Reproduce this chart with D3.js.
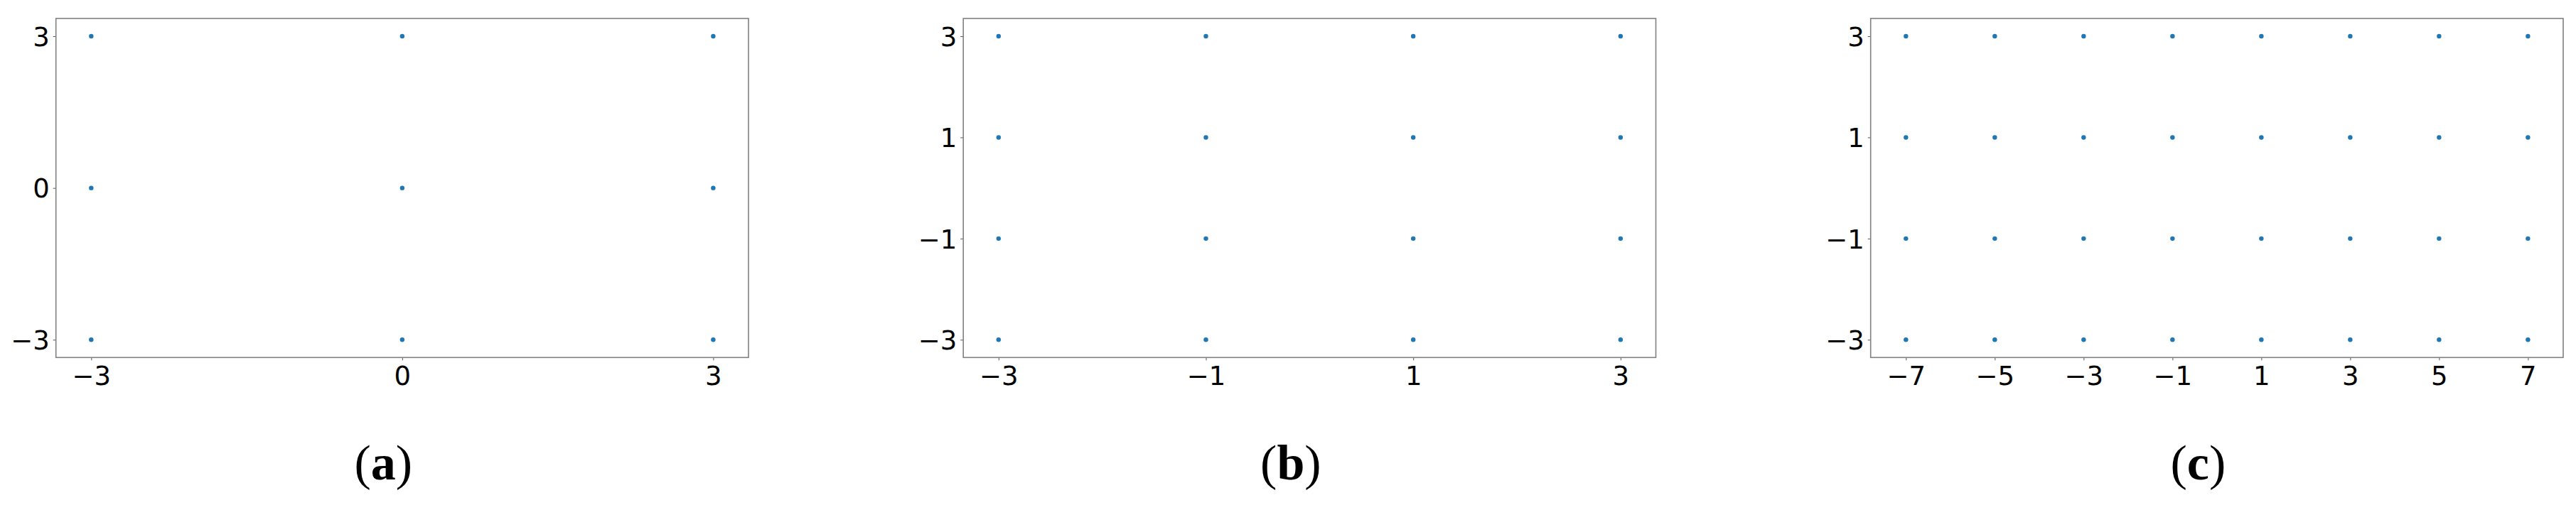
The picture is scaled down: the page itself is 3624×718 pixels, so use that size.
<!DOCTYPE html>
<html>
<head>
<meta charset="utf-8">
<script src="https://cdn.jsdelivr.net/npm/d3@7"></script>
<style>
  html, body { margin: 0; padding: 0; background: #fff; }
  svg { display: block; }
</style>
</head>
<body>
<svg id="chart" width="3624" height="718"></svg>
<script>
// ---- data ----
const panelTitles = ["a", "b", "c"];
const xValuesA = [-3, 0, 3];
const yValuesA = [-3, 0, 3];
const xValuesB = [-3, -1, 1, 3];
const yValuesB = [-3, -1, 1, 3];
const xValuesC = [-7, -5, -3, -1, 1, 3, 5, 7];
const yValuesC = [-3, -1, 1, 3];
const xTicksA = [-3, 0, 3];
const yTicksA = [-3, 0, 3];
const xTicksB = [-3, -1, 1, 3];
const yTicksB = [-3, -1, 1, 3];
const xTicksC = [-7, -5, -3, -1, 1, 3, 5, 7];
const yTicksC = [-3, -1, 1, 3];

const panels = [
  { title: panelTitles[0], xs: xValuesA, ys: yValuesA, xt: xTicksA, yt: yTicksA },
  { title: panelTitles[1], xs: xValuesB, ys: yValuesB, xt: xTicksB, yt: yTicksB },
  { title: panelTitles[2], xs: xValuesC, ys: yValuesC, xt: xTicksC, yt: yTicksC }
];

// ---- layout ----
const svg = d3.select("#chart");
const plotW = 974.3, plotTop = 26, plotBottom = 503.3;
const firstLeft = 78.7, step = 1276.5;
const padX = 0.0567, padY = 0.0585;
const fmt = v => (v < 0 ? "\u2212" + Math.abs(v) : String(v));

panels.forEach((p, i) => {
  const left = firstLeft + i * step;
  const right = left + plotW;
  const [x0, x1] = d3.extent(p.xs);
  const [y0, y1] = d3.extent(p.ys);
  const x = d3.scaleLinear()
    .domain([x0 - (x1 - x0) * padX, x1 + (x1 - x0) * padX])
    .range([left, right]);
  const y = d3.scaleLinear()
    .domain([y0 - (y1 - y0) * padY, y1 + (y1 - y0) * padY])
    .range([plotBottom, plotTop]);

  const g = svg.append("g");

  // points (grid of x by y values)
  const pts = [];
  p.ys.forEach(yy => p.xs.forEach(xx => pts.push([xx, yy])));
  g.selectAll("circle").data(pts).enter().append("circle")
    .attr("cx", d => x(d[0]))
    .attr("cy", d => y(d[1]))
    .attr("r", 3.2)
    .attr("fill", "#1f77b4");

  // axes
  const xAxis = d3.axisBottom(x).tickValues(p.xt).tickFormat(fmt).tickSize(4).tickPadding(8);
  const yAxis = d3.axisLeft(y).tickValues(p.yt).tickFormat(fmt).tickSize(4).tickPadding(5);

  const gx = g.append("g").attr("transform", `translate(0,${plotBottom})`).call(xAxis);
  const gy = g.append("g").attr("transform", `translate(${left},0)`).call(yAxis);
  [gx, gy].forEach(a => {
    a.select(".domain").remove();
    a.selectAll(".tick line").attr("stroke", "#555").attr("stroke-width", 1);
    a.selectAll(".tick text")
      .attr("fill", "#000")
      .style("font-family", "'DejaVu Sans', sans-serif")
      .style("font-size", "37px");
  });
  gy.selectAll(".tick text").attr("dy", "0.36em");
  gx.selectAll(".tick text").attr("dy", "0.71em");

  // frame
  g.append("rect")
    .attr("x", left).attr("y", plotTop)
    .attr("width", plotW).attr("height", plotBottom - plotTop)
    .attr("fill", "none")
    .attr("stroke", "#808080")
    .attr("stroke-width", 1.6);

  // panel title
  const t = g.append("text")
    .attr("x", left + plotW / 2 - 26.5)
    .attr("y", 675)
    .attr("text-anchor", "middle")
    .style("font-family", "'Liberation Serif', 'DejaVu Serif', serif")
    .style("font-size", "70px")
    .attr("fill", "#000");
  t.append("tspan").text("(");
  t.append("tspan").attr("font-weight", "bold").text(p.title);
  t.append("tspan").text(")");
});
</script>
</body>
</html>
